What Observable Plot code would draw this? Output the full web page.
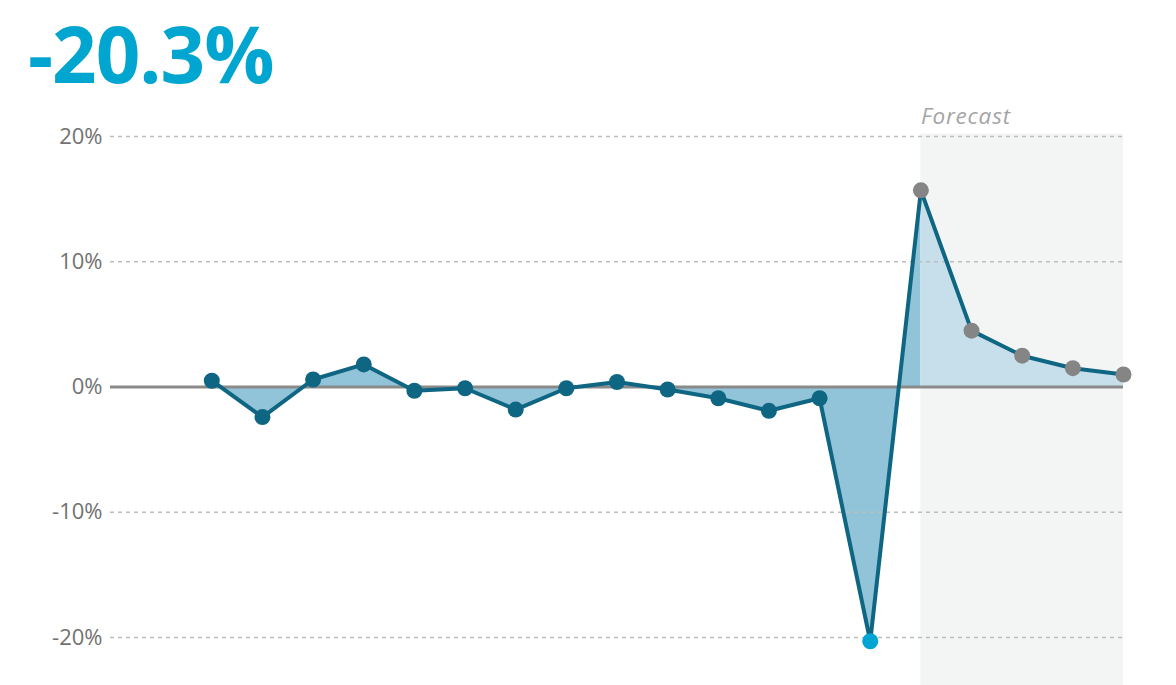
<!DOCTYPE html>
<html>
<head>
<meta charset="utf-8">
<script src="https://cdn.jsdelivr.net/npm/d3@7"></script>
<script src="https://cdn.jsdelivr.net/npm/@observablehq/plot@0.6"></script>
<style>
  html, body { margin: 0; padding: 0; background: #fff; }
  #wrap { position: relative; width: 1176px; height: 685px; overflow: hidden; }
  #title { position: absolute; left: 28px; top: 14px; font-family: "Open Sans", sans-serif; font-weight: 700; font-size: 78px; line-height: 1; color: #00a5d0; letter-spacing: -1px; }
  #chart { position: absolute; left: 0; top: 0; }
  .fc text { letter-spacing: 0.8px; }
</style>
</head>
<body>
<div id="wrap">
  <div id="chart"></div>
  <div id="title">-20.3%</div>
</div>
<script>
// Period index (0..18); 0..13 actual, 13 = latest actual, 14..18 forecast
const periods = d3.range(19);
const values = [0.5, -2.4, 0.6, 1.8, -0.3, -0.1, -1.8, -0.1, 0.4, -0.2, -0.9, -1.9, -0.9, -20.3, 15.7, 4.5, 2.5, 1.5, 1.0];
const latestIndex = 13;
const forecastStart = 14;
const forecastEnd = 18;
const yTicks = [-20, -10, 0, 10, 20];
const forecastLabel = "Forecast";
const forecastBandY = [-24, 20.2];

const data = periods.map((i) => ({ i, v: values[i] }));
const actualArea = data.filter(d => d.i <= forecastStart);
const forecastArea = data.filter(d => d.i >= forecastStart);

const chart = Plot.plot({
  width: 1176,
  height: 685,
  marginLeft: 110,
  marginRight: 53,
  marginTop: 136,
  marginBottom: 48,
  style: { fontFamily: "Open Sans, sans-serif", background: "transparent", overflow: "visible" },
  x: { domain: [-2, 18], axis: null },
  y: { domain: [-20, 20], axis: null },
  marks: [
    Plot.rect([{ x1: forecastStart, x2: forecastEnd, y1: forecastBandY[0], y2: forecastBandY[1] }],
      { x1: "x1", x2: "x2", y1: "y1", y2: "y2", fill: "#f3f4f4", clip: false }),
    Plot.areaY(actualArea, { x: "i", y1: 0, y2: "v", fill: "#92c4d9" }),
    Plot.areaY(forecastArea, { x: "i", y1: 0, y2: "v", fill: "#c7dfea" }),
    Plot.ruleY(yTicks.filter(t => t !== 0), { x1: -2, x2: 18, stroke: "#bdbdbd", strokeWidth: 1.3, strokeDasharray: "4,4" }),
    Plot.ruleY([0], { x1: -2, x2: 18, stroke: "#8a8a8a", strokeWidth: 3 }),
    Plot.axisY({ ticks: yTicks, tickFormat: d => d + "%", tickSize: 0, tickPadding: 8, fontSize: 22, fill: "#727272", anchor: "left" }),
    Plot.line(data, { x: "i", y: "v", stroke: "#0f6683", strokeWidth: 4 }),
    Plot.dot(data.filter(d => d.i < latestIndex), { x: "i", y: "v", r: 8, fill: "#0f6683" }),
    Plot.dot(data.filter(d => d.i === latestIndex), { x: "i", y: "v", r: 8, fill: "#00a5d3" }),
    Plot.dot(data.filter(d => d.i >= forecastStart), { x: "i", y: "v", r: 8, fill: "#858585" }),
    Plot.text([forecastLabel], { x: forecastStart, y: 20, dy: -20, text: d => d, textAnchor: "start", fontSize: 22.5, fontStyle: "italic", fill: "#a5a5a5", clip: false, className: "fc" })
  ]
});
document.getElementById("chart").appendChild(chart);
</script>
</body>
</html>
